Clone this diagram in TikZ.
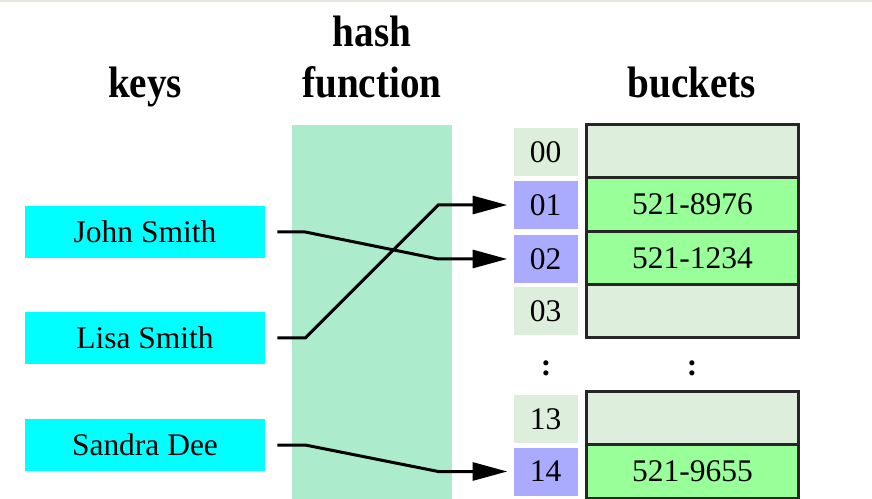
\documentclass[tikz,border=0pt]{standalone}
\usepackage{fontspec}
\setmainfont{Liberation Serif}
\newfontfamily\headfont[FakeStretch=0.89]{Liberation Serif}
\usetikzlibrary{arrows.meta}
\definecolor{keycyan}{HTML}{00FFFF}
\definecolor{hashmint}{RGB}{173,235,205}
\definecolor{slotpale}{RGB}{221,238,221}
\definecolor{slotblue}{RGB}{170,170,255}
\definecolor{entrygreen}{RGB}{153,255,153}
\definecolor{edgegray}{RGB}{230,230,224}

\begin{document}
\begin{tikzpicture}[x=0.75pt,y=-0.75pt,
  txt/.style={font=\fontsize{23.6}{28}\selectfont},
  head/.style={font=\headfont\bfseries\fontsize{33}{40}\selectfont, anchor=base, inner sep=0},
  keybox/.style={txt, fill=keycyan, inner sep=0, minimum width=240*0.75pt, minimum height=52*0.75pt},
  slot/.style={txt, inner sep=0, minimum width=64*0.75pt, minimum height=48*0.75pt},
  entry/.style={txt, draw=black!85, line width=2.25pt, inner sep=0, minimum width=212*0.75pt, minimum height=53.3*0.75pt},
  link/.style={line width=2.25pt, -{Triangle[length=26pt,width=13.5pt]}, shorten >=4.5pt, shorten <=9pt},
  dotmark/.style={font=\fontsize{23.6}{28}\selectfont\bfseries, inner sep=0}
]
\useasboundingbox (0,0) rectangle (872,499);
\fill[edgegray] (0,0) rectangle (872,2.5);

% column headings
\node[head] (hkeys) at (145,98) {keys};
\node[head] (hhash) at (372,47) {hash};
\node[head] (hfunc) at (372,98) {function};
\node[head] (hbuck) at (692,98) {buckets};

% hash function band
\node[fill=hashmint, inner sep=0, minimum width=160*0.75pt, minimum height=374*0.75pt] (hash) at (372,312) {};

% keys
\node[keybox] (john) at (145,232) {John Smith};
\node[keybox] (lisa) at (145,338) {Lisa Smith};
\node[keybox] (sandra) at (145,445) {Sandra Dee};

% slot indices
\node[slot, fill=slotpale] (s00) at (545.5,152) {00};
\node[slot, fill=slotblue] (s01) at (545.5,205) {01};
\node[slot, fill=slotblue] (s02) at (545.5,259) {02};
\node[slot, fill=slotpale] (s03) at (545.5,311.5) {03};
\node[slot, fill=slotpale] (s13) at (545.5,419) {13};
\node[slot, fill=slotblue] (s14) at (545.5,471.5) {14};

% bucket entries
\node[entry, fill=slotpale] (e00) at (692.5,151.25) {};
\node[entry, fill=entrygreen] (e01) at (692.5,204.5) {521-8976};
\node[entry, fill=entrygreen] (e02) at (692.5,257.75) {521-1234};
\node[entry, fill=slotpale] (e03) at (692.5,311.25) {};
\node[entry, fill=slotpale] (e13) at (692.5,418.5) {};
\node[entry, fill=entrygreen] (e14) at (692.5,471.5) {521-9655};

% ellipsis marks
\node[dotmark] (sdots) at (546,368) {:};
\node[dotmark] (edots) at (692,368) {:};

% hashing links
\draw[link] (john.east) -- ++(40,0) -- ([xshift=-75*0.75pt]s02.west) -- (s02.west);
\draw[link] (lisa.east) -- ++(40,0) -- ([xshift=-75*0.75pt]s01.west) -- (s01.west);
\draw[link] (sandra.east) -- ++(40,0) -- ([xshift=-75*0.75pt]s14.west) -- (s14.west);
\end{tikzpicture}
\end{document}
